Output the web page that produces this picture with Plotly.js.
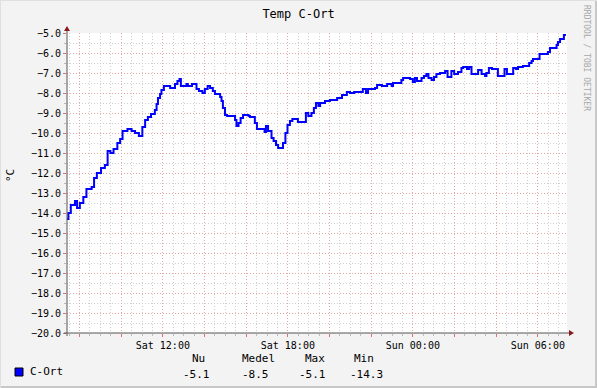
<!DOCTYPE html>
<html>
<head>
<meta charset="utf-8">
<script src="https://cdn.plot.ly/plotly-3.0.1.min.js"></script>
<style>html,body{margin:0;padding:0;background:#f3f3f3;}#chart{width:597px;height:388px;}</style>
</head>
<body>
<div id="chart"></div>
<script>
var seriesName = 'C-Ort';
var chartTitle = 'Temp C-Ort';
var unitLabel = '°C';
var creditText = 'RRDTOOL / TOBI OETIKER';

var tempTimes = [
'2010-01-16 07:24','2010-01-16 07:28','2010-01-16 07:35','2010-01-16 07:47','2010-01-16 07:53',
'2010-01-16 08:01','2010-01-16 08:11','2010-01-16 08:20','2010-01-16 08:35','2010-01-16 08:42',
'2010-01-16 08:50','2010-01-16 09:02','2010-01-16 09:13','2010-01-16 09:21','2010-01-16 09:29',
'2010-01-16 09:38','2010-01-16 09:49','2010-01-16 09:57','2010-01-16 10:04','2010-01-16 10:18',
'2010-01-16 10:30','2010-01-16 10:40','2010-01-16 10:51','2010-01-16 11:01','2010-01-16 11:09',
'2010-01-16 11:17','2010-01-16 11:26','2010-01-16 11:37','2010-01-16 11:42','2010-01-16 11:46',
'2010-01-16 11:52','2010-01-16 11:56','2010-01-16 12:03','2010-01-16 12:21','2010-01-16 12:35',
'2010-01-16 12:42','2010-01-16 12:48','2010-01-16 12:52','2010-01-16 13:08','2010-01-16 13:12',
'2010-01-16 13:24','2010-01-16 13:37','2010-01-16 13:44','2010-01-16 13:54','2010-01-16 14:01',
'2010-01-16 14:09','2010-01-16 14:16','2010-01-16 14:24','2010-01-16 14:30','2010-01-16 14:45',
'2010-01-16 14:49','2010-01-16 14:53','2010-01-16 14:59','2010-01-16 15:05','2010-01-16 15:28',
'2010-01-16 15:32','2010-01-16 15:38','2010-01-16 15:44','2010-01-16 15:51','2010-01-16 16:07',
'2010-01-16 16:11','2010-01-16 16:25','2010-01-16 16:31','2010-01-16 16:53','2010-01-16 16:57',
'2010-01-16 17:03','2010-01-16 17:13','2010-01-16 17:19','2010-01-16 17:26','2010-01-16 17:32',
'2010-01-16 17:46','2010-01-16 17:53','2010-01-16 17:59','2010-01-16 18:06','2010-01-16 18:13',
'2010-01-16 18:29','2010-01-16 18:52','2010-01-16 18:59','2010-01-16 19:08','2010-01-16 19:15',
'2010-01-16 19:21','2010-01-16 19:28','2010-01-16 19:33','2010-01-16 19:47','2010-01-16 20:01',
'2010-01-16 20:22','2010-01-16 20:36','2010-01-16 20:50','2010-01-16 20:59','2010-01-16 21:11',
'2010-01-16 21:36','2010-01-16 21:45','2010-01-16 21:51','2010-01-16 22:11','2010-01-16 22:17',
'2010-01-16 22:31','2010-01-16 22:46','2010-01-16 22:59','2010-01-16 23:03','2010-01-16 23:27',
'2010-01-16 23:32','2010-01-16 23:52','2010-01-17 00:00','2010-01-17 00:06','2010-01-17 00:12',
'2010-01-17 00:25','2010-01-17 00:32','2010-01-17 00:39','2010-01-17 00:45','2010-01-17 00:54',
'2010-01-17 01:01','2010-01-17 01:08','2010-01-17 01:18','2010-01-17 01:33','2010-01-17 01:40',
'2010-01-17 01:51','2010-01-17 01:59','2010-01-17 02:10','2010-01-17 02:20','2010-01-17 02:25',
'2010-01-17 02:36','2010-01-17 02:42','2010-01-17 02:49','2010-01-17 03:08','2010-01-17 03:18',
'2010-01-17 03:28','2010-01-17 03:32','2010-01-17 03:39','2010-01-17 03:48','2010-01-17 04:05',
'2010-01-17 04:24','2010-01-17 04:31','2010-01-17 04:49','2010-01-17 04:57','2010-01-17 05:03',
'2010-01-17 05:17','2010-01-17 05:35','2010-01-17 05:42','2010-01-17 05:46','2010-01-17 06:05',
'2010-01-17 06:29','2010-01-17 06:35','2010-01-17 06:54','2010-01-17 06:58','2010-01-17 07:04',
'2010-01-17 07:15','2010-01-17 07:21'
];
var tempValues = [
-14.3,-14.0,-13.6,-13.4,-13.75,
-13.5,-13.2,-12.8,-12.7,-12.25,
-12.0,-11.75,-11.6,-10.9,-11.0,
-10.8,-10.5,-10.3,-9.9,-9.8,
-9.9,-10.0,-10.15,-9.7,-9.35,
-9.2,-9.05,-8.85,-8.55,-8.25,
-8.05,-7.85,-7.65,-7.75,-7.55,
-7.4,-7.3,-7.65,-7.55,-7.65,
-7.55,-7.8,-7.9,-8.0,-7.8,
-7.65,-7.75,-7.9,-8.05,-8.2,
-8.4,-8.75,-9.1,-9.15,-9.35,
-9.65,-9.5,-9.25,-9.1,-9.15,
-9.2,-9.5,-9.8,-9.95,-9.65,
-9.9,-10.25,-10.4,-10.6,-10.75,
-10.5,-10.0,-9.6,-9.4,-9.3,
-9.45,-9.0,-9.15,-9.0,-8.75,
-8.5,-8.65,-8.5,-8.4,-8.35,
-8.25,-8.1,-7.95,-8.0,-7.95,
-7.8,-8.0,-7.8,-7.75,-7.6,
-7.65,-7.55,-7.65,-7.5,-7.35,
-7.25,-7.3,-7.45,-7.25,-7.4,
-7.25,-7.15,-7.05,-7.25,-7.35,
-7.2,-7.05,-7.0,-6.9,-7.2,
-6.9,-7.05,-6.95,-6.75,-6.7,
-6.8,-6.7,-7.05,-6.85,-7.05,
-7.15,-7.0,-6.75,-6.8,-7.15,
-6.8,-7.05,-6.75,-6.8,-6.7,
-6.65,-6.5,-6.4,-6.3,-6.05,
-5.95,-5.75,-5.6,-5.45,-5.3,
-5.1,-5.1
];

var xRange = ['2010-01-16 07:24','2010-01-17 07:24'];
var yRange = [-20, -5];
var xTickVals = ['2010-01-16 08:00','2010-01-16 10:00','2010-01-16 12:00','2010-01-16 14:00','2010-01-16 16:00',
  '2010-01-16 18:00','2010-01-16 20:00','2010-01-16 22:00','2010-01-17 00:00','2010-01-17 02:00',
  '2010-01-17 04:00','2010-01-17 06:00'];
var xTickText = ['','','Sat 12:00','','','Sat 18:00','','','Sun 00:00','','','Sun 06:00'];

var statNames = ['Nu','Medel','Max','Min'];
var statValues = ['-5.1','-8.5','-5.1','-14.3'];

var FONT = 'DejaVu Sans Mono, monospace';
var L = 67, T = 33, PW = 500, PH = 300;
function px(x){ return (x - L) / PW; }
function py(y){ return (T + PH - y) / PH; }

var majorGrid = '#e6a5a5';
var minorGrid = '#cfcfcf';

var trace = {
  type: 'scatter', mode: 'lines', name: seriesName,
  x: tempTimes, y: tempValues,
  line: {color: '#0000ff', width: 2, shape: 'hv'},
  hoverinfo: 'skip'
};

var statHeaderX = [191, 241, 304, 353];
var statValueX = [182, 241, 298, 349];
var annotations = [];
statNames.forEach(function(n, i){
  annotations.push({xref:'paper', yref:'paper', x: px(statHeaderX[i]), y: py(358), xanchor:'left', yanchor:'middle',
    text: n, showarrow:false, font:{family:FONT, size:11, color:'#000'}, borderpad:0});
  annotations.push({xref:'paper', yref:'paper', x: px(statValueX[i]), y: py(374), xanchor:'left', yanchor:'middle',
    text: statValues[i], showarrow:false, font:{family:FONT, size:11, color:'#000'}, borderpad:0});
});
annotations.push({xref:'paper', yref:'paper', x: px(29), y: py(372), xanchor:'left', yanchor:'middle',
  text: seriesName, showarrow:false, font:{family:FONT, size:11, color:'#000'}, borderpad:0});
annotations.push({xref:'paper', yref:'paper', x: px(10), y: py(176), xanchor:'center', yanchor:'middle',
  text: unitLabel, textangle:-90, showarrow:false, font:{family:FONT, size:11, color:'#000'}, borderpad:0});
annotations.push({xref:'paper', yref:'paper', x: px(587), y: py(4), xanchor:'center', yanchor:'top',
  text: creditText, textangle:90, showarrow:false, font:{family:FONT, size:8, color:'#a8a8a8'}, borderpad:0});

var shapes = [
  // page border
  {type:'line', xref:'paper', yref:'paper', x0:px(0), x1:px(597), y0:py(387), y1:py(387), line:{color:'#c8c8c8', width:2}},
  {type:'line', xref:'paper', yref:'paper', x0:px(596), x1:px(596), y0:py(0), y1:py(388), line:{color:'#c8c8c8', width:2}},
  {type:'line', xref:'paper', yref:'paper', x0:px(0), x1:px(597), y0:py(0.5), y1:py(0.5), line:{color:'#e0e0e0', width:1}},
  {type:'line', xref:'paper', yref:'paper', x0:px(0.5), x1:px(0.5), y0:py(0), y1:py(388), line:{color:'#e0e0e0', width:1}},
  // axes
  {type:'line', xref:'paper', yref:'paper', x0:0, x1:0, y0:py(336), y1:py(29), line:{color:'#555555', width:1}},
  {type:'line', xref:'paper', yref:'paper', x0:px(64), x1:px(570), y0:0, y1:0, line:{color:'#555555', width:1}},
  // arrows
  {type:'path', xref:'paper', yref:'paper', path:'M'+px(64)+','+py(31)+' L'+px(70)+','+py(31)+' L'+px(67)+','+py(26)+' Z',
    fillcolor:'#8b1a1a', line:{color:'#8b1a1a', width:0}},
  {type:'path', xref:'paper', yref:'paper', path:'M'+px(569)+','+py(330)+' L'+px(569)+','+py(336)+' L'+px(574)+','+py(333)+' Z',
    fillcolor:'#8b1a1a', line:{color:'#8b1a1a', width:0}},
  // legend swatch
  {type:'rect', xref:'paper', yref:'paper', x0:px(15), x1:px(23), y0:py(368), y1:py(376),
    fillcolor:'#0000ff', line:{color:'#000000', width:1}}
];

var layout = {
  width: 597, height: 388,
  margin: {l: L, r: 597 - L - PW, t: T, b: 388 - T - PH, pad: 0},
  paper_bgcolor: '#f3f3f3',
  plot_bgcolor: '#ffffff',
  showlegend: false,
  font: {family: FONT, size: 10, color: '#000'},
  title: {text: chartTitle, x: 0.5, xanchor: 'center', y: 1 - 14/388, yanchor: 'middle',
    font: {family: FONT, size: 12, color: '#000'}},
  xaxis: {
    type: 'date', range: xRange, fixedrange: true,
    tickmode: 'array', tickvals: xTickVals, ticktext: xTickText,
    ticks: 'outside', ticklen: 3, tickcolor: '#e07070', tickwidth: 1,
    showgrid: true, gridcolor: majorGrid, griddash: '1px,2px', gridwidth: 1,
    showline: false, zeroline: false,
    tickfont: {family: FONT, size: 10, color: '#000'},
    minor: {tick0: '2010-01-16 00:00', dtick: 1800000, showgrid: true, gridcolor: minorGrid,
      griddash: '1px,2px', ticks: 'outside', ticklen: 2, tickcolor: '#bbbbbb'}
  },
  yaxis: {
    range: yRange, fixedrange: true,
    dtick: 1, tick0: -20, tickformat: '.1f',
    ticks: 'outside', ticklen: 3, tickcolor: '#e07070',
    showgrid: true, gridcolor: majorGrid, griddash: '1px,2px', gridwidth: 1,
    showline: false, zeroline: false,
    tickfont: {family: FONT, size: 10, color: '#000'},
    minor: {dtick: 0.5, showgrid: true, gridcolor: minorGrid, griddash: '1px,2px',
      ticks: 'outside', ticklen: 2, tickcolor: '#bbbbbb'}
  },
  annotations: annotations,
  shapes: shapes
};

Plotly.newPlot('chart', [trace], layout, {staticPlot: true, displayModeBar: false});
</script>
</body>
</html>
